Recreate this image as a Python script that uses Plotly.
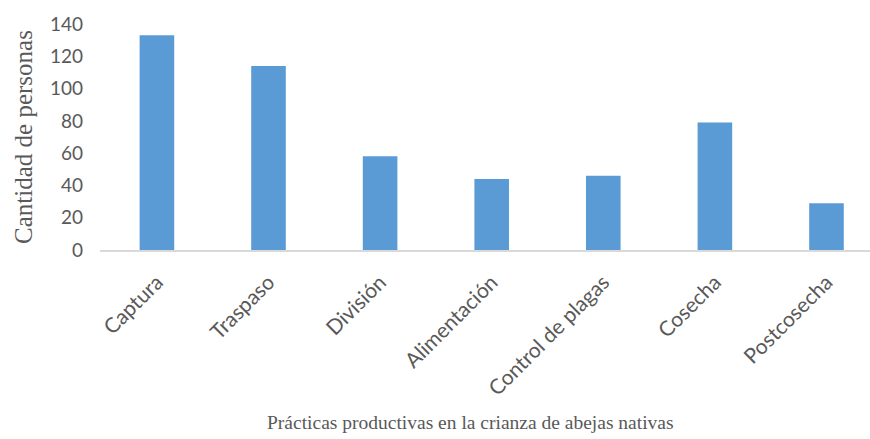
import plotly.graph_objects as go

categorias = ["Captura", "Traspaso", "División", "Alimentación",
              "Control de plagas", "Cosecha", "Postcosecha"]
personas = [133, 114, 58, 44, 46, 79, 29]
y_ticks = [0, 20, 40, 60, 80, 100, 120, 140]
titulo_x = "Prácticas productivas en la crianza de abejas nativas"
titulo_y = "Cantidad de personas"

fig = go.Figure(go.Bar(
    x=categorias, y=personas,
    marker=dict(color="#5B9BD5", line=dict(width=0)),
    width=0.31,
))

fig.add_annotation(
    text=titulo_x, xref="paper", yref="paper",
    x=(470 - 100) / 770, y=-0.765, xanchor="center", yanchor="middle",
    showarrow=False,
    font=dict(family="Liberation Serif", size=19.5, color="#595959"),
)

fig.update_layout(
    width=870, height=439,
    margin=dict(l=100, r=0, t=24, b=189),
    paper_bgcolor="white", plot_bgcolor="white",
    showlegend=False,
    xaxis=dict(
        range=[-0.51, 6.39],
        showline=True, linecolor="#D9D9D9", linewidth=1.5,
        showgrid=False, ticks="", tickangle=-45,
        ticklabelstandoff=10,
        tickfont=dict(family="Lato", size=21, color="#595959"),
    ),
    yaxis=dict(
        range=[0, 140], tickvals=y_ticks,
        showgrid=False, zeroline=False, showline=False, ticks="",
        ticklabelstandoff=16,
        tickfont=dict(family="Lato", size=19, color="#595959"),
        title=dict(text=titulo_y,
                   font=dict(family="Liberation Serif", size=25, color="#595959"),
                   standoff=10),
    ),
)

fig.write_html("out.html")
